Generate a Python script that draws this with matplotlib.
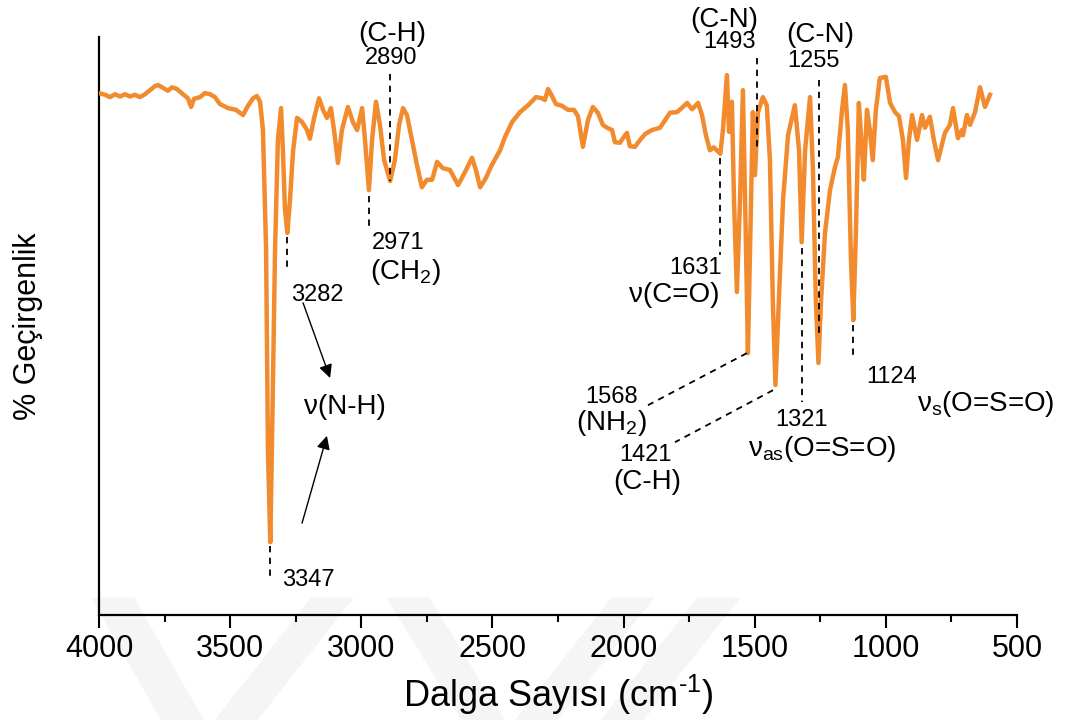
import matplotlib
matplotlib.use('Agg')
import matplotlib.pyplot as plt
from matplotlib.patches import Polygon

plt.rcParams['font.family'] = ['Liberation Sans', 'DejaVu Sans']
plt.rcParams['mathtext.fontset'] = 'custom'
plt.rcParams['mathtext.rm'] = 'Liberation Sans'
plt.rcParams['mathtext.it'] = 'Liberation Sans:italic'

# spectrum (wavenumber cm-1, transmittance %)
wavenumber = [4000, 3977, 3958, 3939, 3920, 3901, 3882, 3863, 3844, 3825,
              3806, 3787, 3775, 3756, 3737, 3722, 3703, 3680, 3661, 3649,
              3638, 3615, 3596, 3577, 3558, 3539, 3508, 3478, 3451, 3432,
              3413, 3398, 3386, 3375, 3363, 3356, 3347, 3341, 3329, 3318,
              3306, 3299, 3291, 3282, 3272, 3260, 3245, 3226, 3207, 3196,
              3180, 3161, 3146, 3131, 3116, 3104, 3089, 3074, 3051, 3032,
              3016, 2997, 2986, 2971, 2959, 2944, 2929, 2913, 2890, 2872,
              2856, 2841, 2826, 2807, 2788, 2769, 2750, 2730, 2711, 2689,
              2662, 2631, 2605, 2578, 2563, 2547, 2525, 2502, 2471, 2452,
              2425, 2395, 2364, 2334, 2311, 2300, 2288, 2273, 2258, 2235,
              2212, 2189, 2174, 2155, 2136, 2117, 2098, 2079, 2063, 2044,
              2033, 2014, 1999, 1987, 1976, 1957, 1937, 1918, 1892, 1861,
              1842, 1823, 1796, 1774, 1758, 1739, 1716, 1701, 1686, 1671,
              1656, 1631, 1621, 1606, 1598, 1587, 1579, 1568, 1556, 1545,
              1533, 1526, 1518, 1507, 1499, 1488, 1469, 1454, 1442, 1431,
              1421, 1408, 1392, 1373, 1347, 1331, 1321, 1308, 1289, 1278,
              1267, 1257, 1247, 1232, 1213, 1194, 1183, 1167, 1156, 1145,
              1133, 1124, 1114, 1103, 1091, 1084, 1072, 1061, 1050, 1038,
              1023, 1000, 984, 965, 950, 935, 923, 912, 900, 881,
              862, 851, 832, 817, 801, 775, 756, 744, 725, 710,
              706, 691, 679, 660, 641, 622, 603]
transmittance = [90.3, 90.0, 89.6, 90.1, 89.7, 90.1, 89.7, 90.0, 89.6, 90.1,
                 90.8, 91.5, 91.7, 91.2, 90.7, 91.3, 91.0, 90.1, 89.4, 87.9,
                 89.3, 89.6, 90.3, 90.1, 89.6, 88.4, 87.7, 87.4, 86.5, 88.1,
                 89.4, 89.8, 88.8, 83.9, 63.1, 28.5, 12.6, 28.5, 63.1, 82.2,
                 87.7, 80.4, 70.1, 66.1, 71.8, 80.4, 86.0, 85.3, 83.9, 82.4,
                 86.0, 89.4, 87.4, 86.0, 87.7, 83.9, 78.2, 83.9, 87.9, 85.3,
                 83.9, 87.7, 82.2, 73.5, 82.2, 88.8, 84.8, 78.7, 75.1, 78.7,
                 84.8, 87.7, 86.5, 82.2, 77.9, 74.0, 75.3, 75.3, 78.4, 77.3,
                 77.0, 74.4, 76.6, 79.1, 77.0, 74.0, 75.6, 77.9, 80.4, 82.7,
                 85.3, 87.0, 88.2, 89.6, 89.4, 89.1, 91.0, 89.8, 88.4, 88.1,
                 87.4, 87.4, 86.3, 81.0, 85.6, 87.9, 86.9, 84.8, 84.3, 83.9,
                 81.8, 81.7, 82.7, 83.4, 81.1, 81.0, 82.2, 83.2, 83.9, 84.3,
                 85.6, 86.9, 87.0, 87.9, 88.6, 87.5, 88.6, 86.5, 83.0, 80.4,
                 80.9, 79.8, 84.0, 93.4, 83.6, 88.8, 71.8, 55.9, 71.8, 90.8,
                 63.1, 45.3, 63.1, 87.0, 76.1, 86.9, 89.6, 88.2, 78.7, 54.5,
                 39.8, 54.5, 71.8, 83.0, 88.2, 80.4, 64.5, 80.4, 89.6, 77.0,
                 54.5, 43.6, 54.5, 66.1, 73.5, 77.5, 79.2, 87.4, 91.7, 83.9,
                 61.4, 51.0, 66.6, 88.6, 80.4, 75.3, 87.4, 83.9, 78.7, 87.4,
                 92.9, 93.1, 88.6, 87.0, 86.3, 82.2, 75.6, 82.2, 86.5, 82.2,
                 86.5, 84.3, 86.2, 82.2, 78.7, 83.4, 84.8, 87.7, 82.5, 83.9,
                 83.0, 86.5, 84.8, 87.0, 91.3, 87.9, 90.0]

x_ticks = [4000, 3500, 3000, 2500, 2000, 1500, 1000, 500]

fig = plt.figure(figsize=(10.73, 7.2), dpi=100)

# faint watermark chevrons behind everything
wm = '#f5f5f5'
for pts in [[(0.085, 0.17), (0.125, 0.17), (0.19, 0.0), (0.15, 0.0)],
            [(0.20, 0.0), (0.24, 0.0), (0.33, 0.17), (0.29, 0.17)],
            [(0.36, 0.17), (0.40, 0.17), (0.47, 0.0), (0.43, 0.0)],
            [(0.48, 0.0), (0.52, 0.0), (0.61, 0.17), (0.57, 0.17)],
            [(0.56, 0.0), (0.60, 0.0), (0.69, 0.17), (0.65, 0.17)]]:
    fig.patches.append(Polygon(pts, closed=True, transform=fig.transFigure,
                               facecolor=wm, edgecolor='none', zorder=-10))

ax = fig.add_axes([0.0923, 0.1458, 0.8555, 0.8028], zorder=5)
ax.patch.set_alpha(0)
ax.plot(wavenumber, transmittance, color='#F28A2E', lw=3.2,
        solid_joinstyle='round', zorder=3)

ax.set_xlim(4000, 500)
ax.set_ylim(0, 100)
ax.set_xticks(x_ticks)
ax.set_xticks([3750, 3250, 2750, 2250, 1750, 1250, 750], minor=True)
ax.set_yticks([])
ax.tick_params(axis='x', which='major', direction='out', length=9, width=1.5,
               labelsize=22, pad=5)
ax.tick_params(axis='x', which='minor', direction='out', length=5, width=1.5)
for s in ['top', 'right']:
    ax.spines[s].set_visible(False)
for s in ['left', 'bottom']:
    ax.spines[s].set_linewidth(1.6)

ax.set_xlabel(r'Dalga Sayısı (cm$^{\text{-1}}$)', fontsize=26, labelpad=6)
ax.set_ylabel('% Geçirgenlik', fontsize=22, labelpad=40)

dash = dict(color='black', lw=1.3, ls=(0, (3.5, 3)), clip_on=False, zorder=4)
num = dict(fontsize=17, ha='center', va='center', clip_on=False)
lab = dict(fontsize=20, ha='center', va='center', clip_on=False)

# vertical dashed markers
ax.plot([2890, 2890], [93.6, 75.1], **dash)
ax.plot([1491, 1491], [96.4, 80.4], **dash)
ax.plot([1255, 1255], [92.6, 47.9], **dash)
ax.plot([2971, 2971], [72.5, 66.6], **dash)
ax.plot([3282, 3282], [65.4, 59.3], **dash)
ax.plot([3347, 3347], [11.9, 6.1], **dash)
ax.plot([1631, 1631], [79.1, 62.3], **dash)
ax.plot([1321, 1321], [63.5, 36.9], **dash)
ax.plot([1124, 1124], [50.2, 44.1], **dash)
# slanted leaders
ax.plot([1530, 1907], [45.3, 36.3], **dash)
ax.plot([1430, 1804], [38.9, 29.9], **dash)

ax.text(2883, 100.6, '(C-H)', **lab)
ax.text(2887, 96.4, '2890', **num)
ax.text(1617, 103.0, '(C-N)', **lab)
ax.text(1598, 99.2, '1493', **num)
ax.text(1251, 100.3, '(C-N)', **lab)
ax.text(1274, 95.8, '1255', **num)
ax.text(2860, 64.3, '2971', **num)
ax.text(2833, 59.4, r'(CH$_\mathregular{2}$)', **lab)
ax.text(3169, 55.4, '3282', **num)
ax.text(3062, 36.0, 'ν(N-H)', **lab)
ax.text(3203, 6.1, '3347', **num)
ax.text(1724, 60.0, '1631', **num)
ax.text(1808, 55.4, 'ν(C=O)', **lab)
ax.text(2044, 37.8, '1568', **num)
ax.text(2048, 33.2, r'(NH$_\mathregular{2}$)', **lab)
ax.text(1918, 27.6, '1421', **num)
ax.text(1911, 23.1, '(C-H)', **lab)
ax.text(1320, 33.7, '1321', **num)
ax.text(1244, 28.7, r'ν$_\mathregular{as}$(O=S=O)', **lab)
ax.text(977, 41.2, '1124', **num)
ax.text(618, 36.5, r'ν$_\mathregular{s}$(O=S=O)', **lab)

arrow = dict(arrowstyle='-|>', color='black', lw=1.0, mutation_scale=20,
             shrinkA=0, shrinkB=0)
ax.annotate('', xy=(3119, 41.0), xytext=(3222, 54.0), arrowprops=arrow)
ax.annotate('', xy=(3131, 31.0), xytext=(3226, 15.9), arrowprops=arrow)

fig.savefig('out.png', dpi=100)
